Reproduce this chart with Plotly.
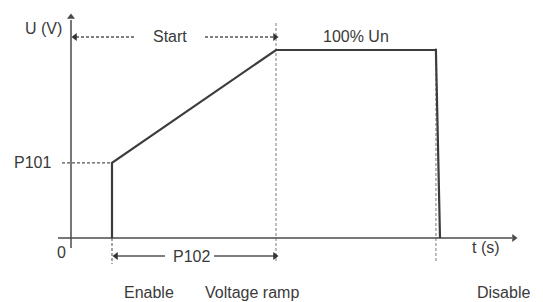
import plotly.graph_objects as go

# ---- data (time in s, voltage in % of Un) ----
t_signal = [1.0, 1.0, 5.0, 8.9, 9.0]
u_signal = [0, 40, 100, 100, 0]
p101_level = 40
t_enable = 1.0
t_ramp_end = 5.0
t_disable = 8.9
event_labels = ["Enable", "Voltage ramp", "Disable"]

# pixel mapping helpers (page 543x302, axis origin at px (71,238))
PX_T = 41.0     # px per time unit
PX_U = 1.88     # px per % unit
OFF = 8         # default page body margin
def tx(px):
    return (px - 71) / PX_T
def uy(py):
    return (238 - py) / PX_U

AX = "#4a4a4a"
SIG = "#3c3c3c"
LIGHT = "#a8a8a8"
TXT = "#3a3a3a"
FONT = "Liberation Sans"

fig = go.Figure()

def line(xs, ys, color, width, dash="solid"):
    fig.add_trace(go.Scatter(x=xs, y=ys, mode="lines", hoverinfo="skip",
                             line=dict(color=color, width=width, dash=dash),
                             showlegend=False))

def head(x, y, sym, color, size=8):
    fig.add_trace(go.Scatter(x=[x], y=[y], mode="markers", hoverinfo="skip",
                             marker=dict(symbol=sym, size=size, color=color,
                                         line=dict(width=0)),
                             showlegend=False))

# light dashed verticals
line([t_ramp_end, t_ramp_end], [uy(23), uy(262)], LIGHT, 1.5, "3px,2px")
line([t_disable, t_disable], [uy(48), uy(262)], LIGHT, 1.5, "3px,2px")
# enable dashed below axis
line([t_enable, t_enable], [0, uy(264)], "#777777", 1.3, "3px,2px")

# axes
line([0, 0], [uy(248), uy(20)], AX, 1.5)
head(0, uy(17), "triangle-up", AX, 7)
line([tx(58), tx(512)], [0, 0], AX, 1.5)
head(tx(514), 0, "triangle-right", AX, 7)

# P101 dashed level
line([tx(62), t_enable], [p101_level, p101_level], "#555555", 1.3, "3px,2px")

# signal
line(t_signal, u_signal, SIG, 2.2)

# Start arrow (dashed)
ys = uy(37)
line([tx(76), tx(135)], [ys, ys], "#555555", 1.5, "3px,2px")
line([tx(205), tx(274)], [ys, ys], "#555555", 1.5, "3px,2px")
head(tx(75), ys, "triangle-left", "#333333", 7)
head(tx(275), ys, "triangle-right", "#333333", 7)

# P102 arrow (solid)
yp = uy(256)
line([tx(116), tx(165)], [yp, yp], "#555555", 1.5)
line([tx(214), tx(274)], [yp, yp], "#555555", 1.5)
head(tx(116), yp, "triangle-left", "#333333", 7)
head(tx(275), yp, "triangle-right", "#333333", 7)

def label(text, px, py, xanchor="center"):
    fig.add_annotation(x=tx(px), y=uy(py), text=text, showarrow=False,
                       xanchor=xanchor, yanchor="middle",
                       font=dict(family=FONT, size=16, color=TXT))

label("U (V)", 43, 28)
label("Start", 170, 36)
label("100% Un", 356, 36)
label("P101", 32, 162)
label("0", 61, 252)
label("P102", 191, 256)
label("t (s)", 486, 247)
label(event_labels[0], 149, 292)
label(event_labels[1], 252, 292)
label(event_labels[2], 503, 292)

fig.update_layout(
    width=543 - OFF, height=302 - OFF,
    margin=dict(l=0, r=0, t=0, b=0),
    paper_bgcolor="white", plot_bgcolor="white",
    xaxis=dict(range=[tx(OFF), tx(543)], visible=False, fixedrange=True),
    yaxis=dict(range=[uy(302), uy(OFF)], visible=False, fixedrange=True),
    showlegend=False,
)

fig.write_html("out.html")
